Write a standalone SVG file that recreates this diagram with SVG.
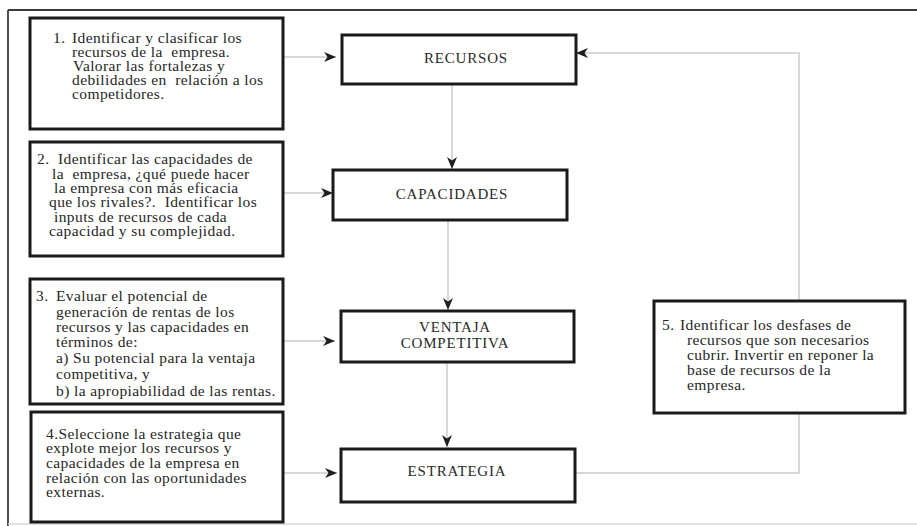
<svg xmlns="http://www.w3.org/2000/svg" width="917" height="526" viewBox="0 0 917 526">
<defs>
<marker id="ah" markerWidth="13" markerHeight="11" refX="12" refY="5" orient="auto" markerUnits="userSpaceOnUse">
<path d="M0,0 L12,5 L0,10 L3.5,5 z" fill="#1e1e1e"/>
</marker>
<style>
.box{fill:#fff;stroke:#1a1a1a;stroke-width:3}
.t{font-family:"Liberation Serif","Times New Roman",serif;font-size:15.5px;letter-spacing:0.4px;fill:#262626;white-space:pre}
.lbl{font-family:"Liberation Serif","Times New Roman",serif;font-size:15px;letter-spacing:0.8px;fill:#2a2a2a;text-anchor:middle}
.c{fill:none;stroke:#cbcbcb;stroke-width:1.5}
.ca{fill:none;stroke:#cbcbcb;stroke-width:1.5;marker-end:url(#ah)}
</style>
</defs>
<rect width="917" height="526" fill="#fff"/>
<g id="frame">
<line x1="8" y1="10" x2="917" y2="10" stroke="#3a3a3a" stroke-width="1.8"/>
<line x1="8" y1="10" x2="8" y2="526" stroke="#3a3a3a" stroke-width="1.8"/>
<line x1="8" y1="524" x2="917" y2="524" stroke="#d8d8d8" stroke-width="1.5"/>
</g>
<g id="connectors">
<line class="ca" x1="283" y1="57" x2="336" y2="57"/>
<line class="ca" x1="283" y1="193" x2="333" y2="193"/>
<line class="ca" x1="283" y1="341" x2="335" y2="341"/>
<line class="ca" x1="283" y1="473" x2="337" y2="473"/>
<line class="ca" x1="452" y1="84" x2="452" y2="169"/>
<line class="ca" x1="448" y1="220" x2="448" y2="310"/>
<line class="ca" x1="447" y1="362" x2="447" y2="447"/>
<polyline class="ca" points="575,473 799,473 799,53 576,53"/>
</g>
<g id="step1">
<rect class="box" x="30" y="18" width="253" height="111"/>
<text class="t" x="53" y="43">1.</text>
<text class="t" x="72" y="43">Identificar y clasificar los</text>
<text class="t" x="72" y="57">recursos de la  empresa.</text>
<text class="t" x="73" y="71">Valorar las fortalezas y</text>
<text class="t" x="72" y="85">debilidades en  relación a los</text>
<text class="t" x="72" y="99">competidores.</text>
</g>
<g id="step2">
<rect class="box" x="30" y="142" width="253" height="114"/>
<text class="t" x="37" y="164">2.</text>
<text class="t" x="58" y="164">Identificar las capacidades de</text>
<text class="t" x="52" y="179">la  empresa, ¿qué puede hacer</text>
<text class="t" x="54" y="193">la empresa con más eficacia</text>
<text class="t" x="49" y="207">que los rivales?.  Identificar los</text>
<text class="t" x="54" y="222">inputs de recursos de cada</text>
<text class="t" x="49" y="236">capacidad y su complejidad.</text>
</g>
<g id="step3">
<rect class="box" x="30" y="279" width="253" height="125"/>
<text class="t" x="36" y="301">3.</text>
<text class="t" x="56" y="301">Evaluar el potencial de</text>
<text class="t" x="56" y="317">generación de rentas de los</text>
<text class="t" x="56" y="332">recursos y las capacidades en</text>
<text class="t" x="56" y="347">términos de:</text>
<text class="t" x="56" y="363">a) Su potencial para la ventaja</text>
<text class="t" x="56" y="379">competitiva, y</text>
<text class="t" x="56" y="396">b) la apropiabilidad de las rentas.</text>
</g>
<g id="step4">
<rect class="box" x="31" y="412" width="252" height="110"/>
<text class="t" x="46" y="439">4.Seleccione la estrategia que</text>
<text class="t" x="46" y="453">explote mejor los recursos y</text>
<text class="t" x="46" y="468">capacidades de la empresa en</text>
<text class="t" x="46" y="483">relación con las oportunidades</text>
<text class="t" x="46" y="497">externas.</text>
</g>
<g id="step5">
<rect class="box" x="654" y="301" width="251" height="112"/>
<text class="t" x="662" y="330">5.</text>
<text class="t" x="680" y="330">Identificar los desfases de</text>
<text class="t" x="687" y="345">recursos que son necesarios</text>
<text class="t" x="687" y="360">cubrir. Invertir en reponer la</text>
<text class="t" x="687" y="375">base de recursos de la</text>
<text class="t" x="687" y="390">empresa.</text>
</g>
<g id="recursos">
<rect class="box" x="342" y="35" width="234" height="49"/>
<text class="lbl" x="466" y="63">RECURSOS</text>
</g>
<g id="capacidades">
<rect class="box" x="333" y="170" width="234" height="50"/>
<text class="lbl" x="452" y="199">CAPACIDADES</text>
</g>
<g id="ventaja">
<rect class="box" x="341" y="311" width="233" height="51"/>
<text class="lbl" x="455" y="332">VENTAJA</text>
<text class="lbl" x="455" y="348">COMPETITIVA</text>
</g>
<g id="estrategia">
<rect class="box" x="341" y="449" width="234" height="53"/>
<text class="lbl" x="457" y="476">ESTRATEGIA</text>
</g>
</svg>
